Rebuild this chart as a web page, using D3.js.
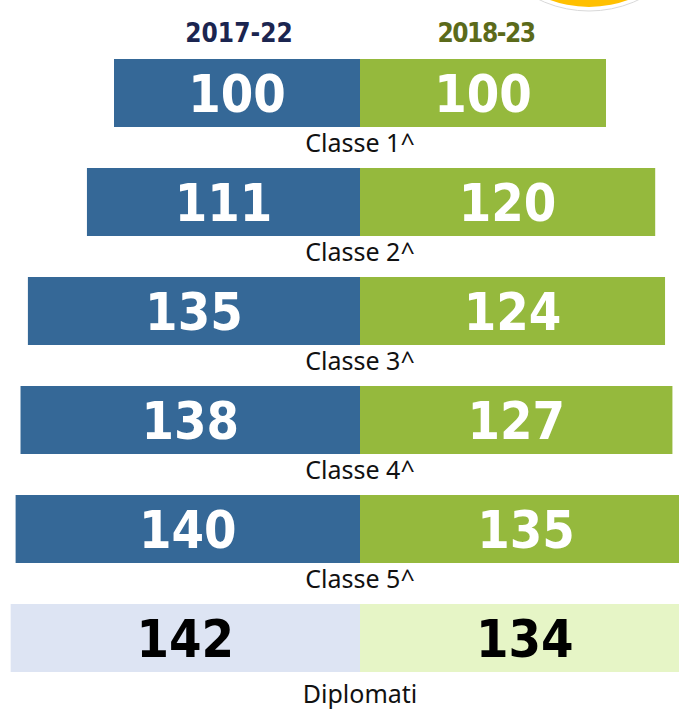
<!DOCTYPE html>
<html>
<head>
<meta charset="utf-8">
<script src="https://cdn.jsdelivr.net/npm/d3@7"></script>
<style>
  html, body { margin: 0; padding: 0; background: #fff; overflow: hidden; }
</style>
</head>
<body>
<div id="chart"></div>
<script>
// data
const categories = ['Classe 1^', 'Classe 2^', 'Classe 3^', 'Classe 4^', 'Classe 5^', 'Diplomati'];
const cohortA = [100, 111, 135, 138, 140, 142]; // 2017-22
const cohortB = [100, 120, 124, 127, 135, 134]; // 2018-23
const seriesNames = ['2017-22', '2018-23'];

const width = 679;
const height = 711;
const midX = 360;

const svg = d3.select('#chart').append('svg')
    .attr('width', width)
    .attr('height', height);

// decorative yellow badge peeking in at the top
svg.append('circle')
    .attr('cx', 589).attr('cy', -105).attr('r', 116)
    .attr('fill', '#fff').attr('stroke', '#d9d9d9').attr('stroke-width', 1);
svg.append('circle')
    .attr('cx', 589).attr('cy', -105).attr('r', 112)
    .attr('fill', '#ffc000');

// scales
const y = d3.scaleBand()
    .domain(categories)
    .range([59, 59 + 6 * 109 - 41])
    .paddingInner(41 / 109)
    .paddingOuter(0);

const w = d3.scaleLinear().domain([0, 100]).range([0, 246]);

const rows = categories.map((c, i) => ({cat: c, a: cohortA[i], b: cohortB[i], last: c === 'Diplomati'}));

const g = svg.append('g');

// left bars (2017-22)
g.selectAll('rect.left')
    .data(rows)
    .enter().append('rect')
    .attr('class', 'left')
    .attr('x', d => midX - w(d.a))
    .attr('y', d => y(d.cat))
    .attr('width', d => w(d.a))
    .attr('height', y.bandwidth())
    .attr('fill', d => d.last ? '#dde4f3' : '#356897');

// right bars (2018-23)
g.selectAll('rect.right')
    .data(rows)
    .enter().append('rect')
    .attr('class', 'right')
    .attr('x', midX)
    .attr('y', d => y(d.cat))
    .attr('width', d => w(d.b))
    .attr('height', y.bandwidth())
    .attr('fill', d => d.last ? '#e6f5c6' : '#95b93d');

const valFont = '"DejaVu Sans Condensed", "DejaVu Sans", sans-serif';

// values
g.selectAll('text.va')
    .data(rows)
    .enter().append('text')
    .attr('class', 'va')
    .attr('x', d => midX - w(d.a) / 2)
    .attr('y', d => y(d.cat) + y.bandwidth() / 2 + 19)
    .attr('text-anchor', 'middle')
    .style('font-family', valFont)
    .style('font-weight', 'bold')
    .style('font-size', '52px')
    .attr('fill', d => d.last ? '#000' : '#fff')
    .text(d => d.a);

g.selectAll('text.vb')
    .data(rows)
    .enter().append('text')
    .attr('class', 'vb')
    .attr('x', d => midX + w(d.b) / 2)
    .attr('y', d => y(d.cat) + y.bandwidth() / 2 + 19)
    .attr('text-anchor', 'middle')
    .style('font-family', valFont)
    .style('font-weight', 'bold')
    .style('font-size', '52px')
    .attr('fill', d => d.last ? '#000' : '#fff')
    .text(d => d.b);

// category labels under each bar
g.selectAll('text.cat')
    .data(rows)
    .enter().append('text')
    .attr('class', 'cat')
    .attr('x', midX)
    .attr('y', d => y(d.cat) + y.bandwidth() + (d.last ? 31 : 25))
    .attr('text-anchor', 'middle')
    .style('font-family', '"Noto Sans", sans-serif')
    .style('font-size', '25px')
    .attr('fill', '#111')
    .text(d => d.cat);

// series headers
const headX = [239, 486];
const headCol = ['#1b2550', '#5b6a1a'];
const headSpacing = ['0px', '-1.5px'];
svg.selectAll('text.head')
    .data(seriesNames)
    .enter().append('text')
    .attr('class', 'head')
    .attr('x', (d, i) => headX[i])
    .attr('y', 42)
    .attr('text-anchor', 'middle')
    .style('font-family', '"Liberation Sans Narrow", "DejaVu Sans Condensed", sans-serif')
    .style('font-weight', 'bold')
    .style('font-size', '26px')
    .style('letter-spacing', (d, i) => headSpacing[i])
    .attr('fill', (d, i) => headCol[i])
    .text(d => d);
</script>
</body>
</html>
